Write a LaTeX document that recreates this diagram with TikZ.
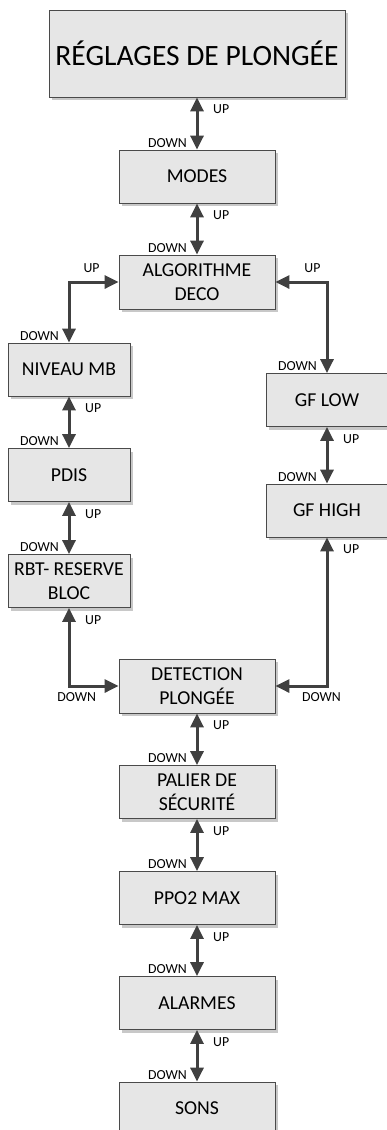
\documentclass[tikz,border=0pt]{standalone}
\usepackage{fontspec}
\setmainfont{Carlito}
\usetikzlibrary{arrows.meta,calc,shadows}
\definecolor{boxfill}{HTML}{E6E6E6}
\definecolor{boxline}{HTML}{4A4A4A}
\definecolor{arr}{HTML}{404040}
\definecolor{shad}{HTML}{C8C8C8}
\begin{document}
\begin{tikzpicture}[x=1pt,y=-1pt,
  box/.style={draw=boxline, line width=0.8pt, fill=boxfill, minimum width=156pt, minimum height=53pt,
    inner sep=0pt, align=center, font=\fontsize{19.7}{24.3}\selectfont,
    general shadow={fill=shad, shadow xshift=3pt, shadow yshift=-3pt}},
  sbox/.style={box, minimum width=122pt},
  link/.style={line width=3pt, draw=arr, {Triangle[width=13pt,length=14pt]}-{Triangle[width=13pt,length=14pt]}},
  lab/.style={font=\fontsize{13.8}{14}\selectfont, inner sep=0pt, text=black},
  uplab/.style={lab, anchor=west},
  dnlab/.style={lab, anchor=east}]
\clip (0,0) rectangle (387,1130);
\fill[white] (0,0) rectangle (387,1130);
% boxes
\node[box, minimum width=296pt, minimum height=87pt, font=\fontsize{29.5}{31}\selectfont] (title) at (197,53.5) {RÉGLAGES DE PLONGÉE};
\node[box] (modes) at (197,176.5) {MODES};
\node[box, minimum height=54pt] (algo) at (197,282) {ALGORITHME\\DECO};
\node[sbox] (niveau) at (69,369.5) {NIVEAU MB};
\node[sbox] (pdis) at (69,475) {PDIS};
\node[sbox] (rbt) at (69,581) {RBT- RESERVE\\BLOC};
\node[sbox] (gflow) at (327,400) {GF LOW};
\node[sbox] (gfhigh) at (327,510.5) {GF HIGH};
\node[box, minimum height=54pt] (detect) at (197,686) {DETECTION\\PLONGÉE};
\node[box] (palier) at (197,792) {PALIER DE\\SÉCURITÉ};
\node[box] (ppo2) at (197,898) {PPO2 MAX};
\node[box] (alarmes) at (197,1003) {ALARMES};
\node[box] (sons) at (197,1108.5) {SONS};
% connectors
\draw[link] (title.south) -- (modes.north);
\draw[link] (modes.south) -- (algo.north);
\draw[link] (algo.west) -| (niveau.north);
\draw[link] (algo.east) -| (gflow.north);
\draw[link] (niveau.south) -- (pdis.north);
\draw[link] (pdis.south) -- (rbt.north);
\draw[link] (gflow.south) -- (gfhigh.north);
\draw[link] (rbt.south) |- (detect.west);
\draw[link] (gfhigh.south) |- (detect.east);
\draw[link] (detect.south) -- (palier.north);
\draw[link] (palier.south) -- (ppo2.north);
\draw[link] (ppo2.south) -- (alarmes.north);
\draw[link] (alarmes.south) -- (sons.north);
% labels
\foreach \a/\b in {title/modes, modes/algo, niveau/pdis, pdis/rbt, gflow/gfhigh, detect/palier, palier/ppo2, ppo2/alarmes, alarmes/sons}{
  \node[uplab] (up-\a) at ($(\a.south)+(16,12)$) {UP};
  \node[dnlab] (dn-\b) at ($(\b.north)+(-10,-7)$) {DOWN};
}
\node[lab] (up-algoL) at ($(algo.west)+(-27,-14)$) {UP};
\node[lab] (up-algoR) at ($(algo.east)+(37,-14)$) {UP};
\node[dnlab] (dn-niveau) at ($(niveau.north)+(-10,-7)$) {DOWN};
\node[dnlab] (dn-gflow) at ($(gflow.north)+(-10,-7)$) {DOWN};
\node[uplab] (up-rbt) at ($(rbt.south)+(16,12)$) {UP};
\node[uplab] (up-gfhigh) at ($(gfhigh.south)+(16,12)$) {UP};
\node[lab] (dn-detL) at ($(detect.west)+(-42,11)$) {DOWN};
\node[lab] (dn-detR) at ($(detect.east)+(46,11)$) {DOWN};
\end{tikzpicture}
\end{document}
